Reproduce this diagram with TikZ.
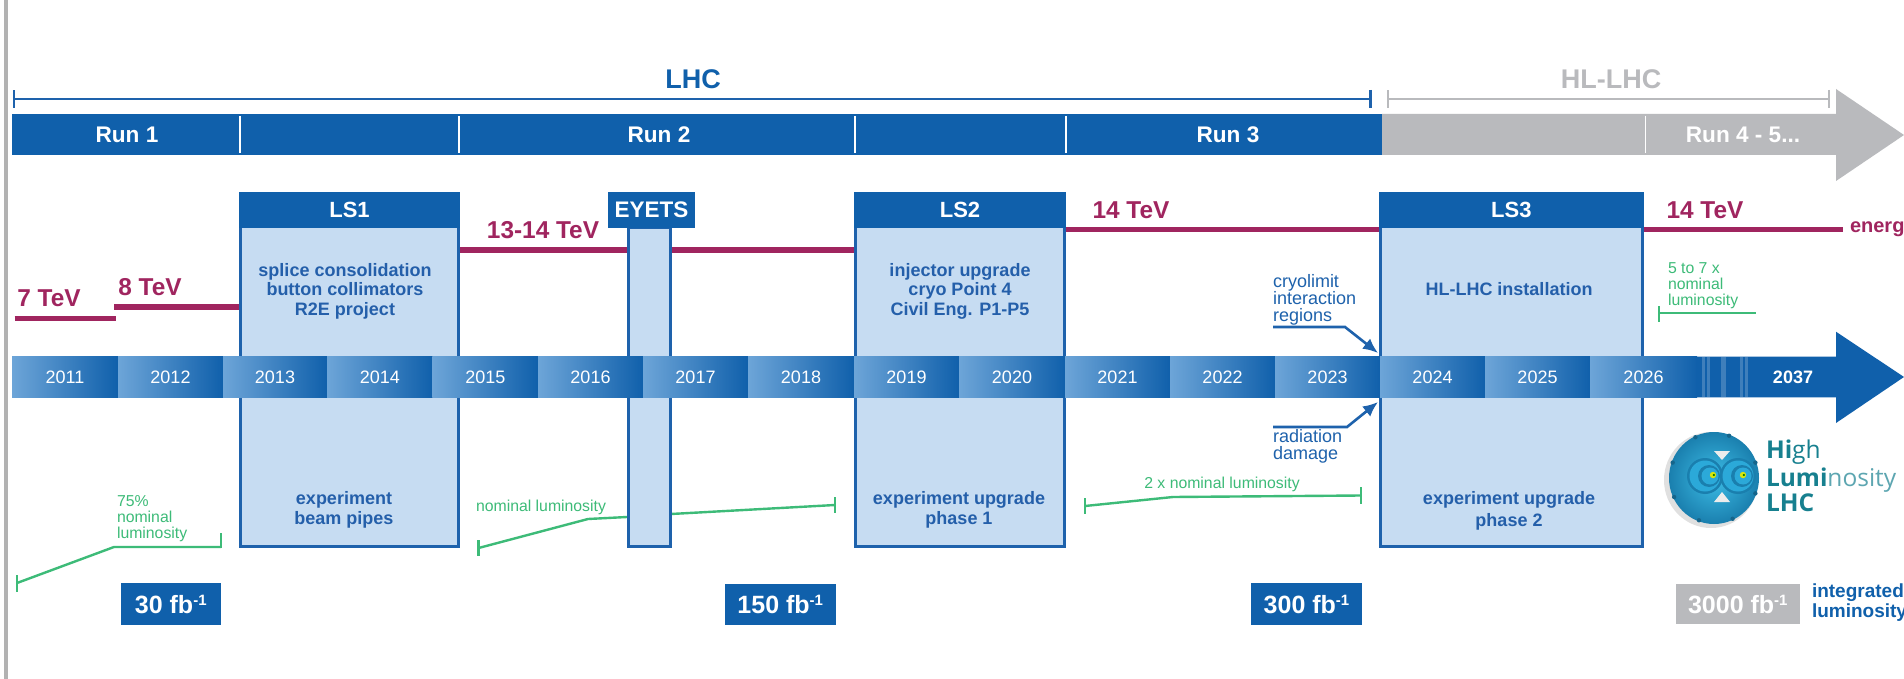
\documentclass[tikz,border=0pt]{standalone}
\usepackage{fontspec}
\setmainfont{Liberation Sans}
\newfontfamily\logofont{Open Sans}
\usetikzlibrary{arrows.meta}
\definecolor{barblue}{HTML}{1060AB}
\definecolor{cellight}{HTML}{6DA5D8}
\definecolor{bodyblue}{HTML}{C6DCF2}
\definecolor{edgeblue}{HTML}{1E62AC}
\definecolor{textblue}{HTML}{245FAA}
\definecolor{barGray}{HTML}{B9BABD}
\definecolor{magentaline}{HTML}{A0255F}
\definecolor{greenline}{HTML}{3DBB78}
\definecolor{logoteal}{HTML}{17808F}
\definecolor{logobase}{HTML}{2BA9D9}
\definecolor{logoedge}{HTML}{1A7FAE}
\definecolor{logolight}{HTML}{3DBDE6}
\newcommand{\sz}[2]{\fontsize{#1}{#2}\selectfont}
\newcommand{\fbsup}{fb\raisebox{8pt}{\sz{15}{15}-1}}
\tikzset{
  every node/.style={inner sep=0pt,outer sep=0pt},
  runlabel/.style={text=white,font=\sz{22.6}{24}\bfseries},
  toplabel/.style={font=\sz{27}{28}\bfseries},
  hdrbox/.style={fill=barblue,text=white,font=\sz{22}{24}\bfseries},
  lsbody/.style={fill=bodyblue,draw=edgeblue,line width=3pt},
  boxtext/.style={text=textblue,align=center,font=\sz{18}{19.6}\bfseries},
  teV/.style={text=magentaline,font=\sz{24.4}{26}\bfseries},
  energyline/.style={draw=magentaline,line width=5.5pt},
  yearcell/.style={left color=cellight,right color=barblue,text=white,font=\sz{18}{20}},
  lumi/.style={draw=greenline,line width=2.4pt},
  lumitext/.style={text=greenline,font=\sz{15.8}{16}},
  bluetext/.style={text=edgeblue,align=left,anchor=west,font=\sz{18}{17}},
  bluearrow/.style={draw=edgeblue,line width=2.6pt,-{Latex[length=15pt,width=13pt]}},
  fbbox/.style={fill=barblue,text=white,font=\sz{25}{26}\bfseries},
}
% cell from x0 to x1 on the year strip
\newcommand{\yearbox}[4]{\node[yearcell,minimum width=#3pt-#2pt,minimum height=40.6pt] (#1) at ({(#2+#3)/2},377) {#4};}
\newcommand{\lsbox}[5]{%
  \node[lsbody,minimum width=#3pt-#2pt-3pt,minimum height=546pt-226pt] (#1body) at ({(#2+#3)/2},386) {};
  \node[hdrbox,minimum width=#3pt-#2pt,minimum height=36pt] (#1head) at ({(#2+#3)/2},210) {#4};}
\begin{document}
\begin{tikzpicture}[x=1pt,y=-1pt]
\useasboundingbox (0,0) rectangle (1904,679);
\clip (0,0) rectangle (1904,679);
\fill[white] (0,0) rectangle (1904,679);
% left rule
\fill[black!30] (4,0) rectangle (8,679);

% brackets
\coordinate (lhcA) at (13,99); \coordinate (lhcB) at (1372,99);
\coordinate (hlA) at (1387,99); \coordinate (hlB) at (1830,99);
\draw[edgeblue,line width=2.2pt,{Bar[width=18pt,line width=2.2pt]}-{Bar[width=18pt,line width=3pt]}] (lhcA) -- (lhcB);
\draw[barGray,line width=2.2pt,{Bar[width=18pt,line width=2.2pt]}-{Bar[width=18pt,line width=2.2pt]}] (hlA) -- (hlB);
\node[toplabel,text=barblue] (lhc) at (693,79) {LHC};
\node[toplabel,text=barGray] (hl) at (1611,79) {HL-LHC};

% run bar
\fill[barGray] (1382,114) -- (1836,114) -- (1836,89) -- (1904,135) -- (1836,181) -- (1836,155) -- (1382,155) -- cycle;
\fill[barblue] (12,114) rectangle (1382,155);
\foreach \sx in {240,459,855,1066,1645.5}
  \draw[white,line width=1.4pt] (\sx,116) -- (\sx,153);
\node[runlabel] (run1) at (127,135) {Run 1};
\node[runlabel] (run2) at (659,135) {Run 2};
\node[runlabel] (run3) at (1228,135) {Run 3};
\node[runlabel] (run4) at (1743,135) {Run 4 - 5...};

% energy lines
\draw[energyline] (14.5,318.7) -- (116,318.7);
\draw[energyline] (114,307) -- (240,307);
\draw[energyline] (460,250) -- (628,250);
\draw[energyline] (670,250) -- (855,250);
\draw[energyline,line width=5pt] (1066,230) -- (1380,230);
\draw[energyline,line width=5pt] (1644,229.5) -- (1843,229.5);
\node[teV] (e7) at (49,298) {7 TeV};
\node[teV] (e8) at (150,287) {8 TeV};
\node[teV] (e13) at (543,230) {13-14 TeV};
\node[teV] (e14a) at (1131,210) {14 TeV};
\node[teV] (e14b) at (1705,210) {14 TeV};
\node[anchor=west,text=magentaline,font=\sz{20}{22}\bfseries] (energy) at (1850,229) {energy};

% luminosity lines behind the EYETS box
\draw[lumi] (17,583) -- (114,547) -- (221,547);
\draw[lumi] (17,575) -- (17,592);
\draw[lumi] (221,533) -- (221,548);
\draw[lumi] (478.6,548) -- (588,519) -- (627,517) -- (671,514) -- (835,505);
\draw[lumi] (478.6,540) -- (478.6,556);
\draw[lumi] (835,497) -- (835,513);

% long shutdowns
\lsbox{ls1}{239}{460}{LS1}{}
\lsbox{ls2}{854}{1066}{LS2}{}
\lsbox{ls3}{1378.6}{1644}{LS3}{}
\node[lsbody,minimum width=42pt,minimum height=319pt] (eyetsbody) at (649,387) {};
\node[hdrbox,minimum width=87pt,minimum height=36pt,font=\sz{22.5}{24}\bfseries] (eyetshead) at (651.5,210) {EYETS};

% year strip
\yearbox{y11}{12}{118}{2011}
\yearbox{y12}{118}{223}{2012}
\yearbox{y13}{223}{327}{2013}
\yearbox{y14}{327}{432.6}{2014}
\yearbox{y15}{432.6}{538}{2015}
\yearbox{y16}{538}{643}{2016}
\yearbox{y17}{643}{748}{2017}
\yearbox{y18}{748}{854}{2018}
\yearbox{y19}{854}{959}{2019}
\yearbox{y20}{959}{1065}{2020}
\yearbox{y21}{1065}{1170}{2021}
\yearbox{y22}{1170}{1275}{2022}
\yearbox{y23}{1275}{1380}{2023}
\yearbox{y24}{1380}{1485}{2024}
\yearbox{y25}{1485}{1590}{2025}
\yearbox{y26}{1590}{1697}{2026}
\fill[barblue] (1696,356.7) -- (1836,356.7) -- (1836,331.7) -- (1904,377) -- (1836,423) -- (1836,397.3) -- (1696,397.3) -- cycle;
\foreach \sx/\sw in {1702/3,1707/3,1721/5,1740/3,1745/3}
  \fill[white,opacity=.2] (\sx,356.7) rectangle ++(\sw,40.6);
\node[text=white,font=\sz{18}{20}\bfseries] (y37) at (1793,377) {2037};

% box texts
\node[boxtext] (t1a) at (345,291) {splice consolidation\\button collimators\\R2E project};
\node[boxtext] (t1b) at (344,510) {experiment\\beam pipes};
\node[boxtext] (t2a) at (960,291) {injector upgrade\\cryo Point 4\\Civil Eng. P1-P5};
\node[boxtext] (t2b) at (959,510) {experiment upgrade\\phase 1};
\node[boxtext] (t3a) at (1509,289) {HL-LHC installation};
\node[boxtext,font=\sz{18}{21.5}\bfseries] (t3b) at (1509,511) {experiment upgrade\\phase 2};

% luminosity, other segments and labels
\draw[lumi] (1085,506) -- (1173,497) -- (1361,495.5);
\draw[lumi] (1085,498) -- (1085,514);
\draw[lumi] (1361,487) -- (1361,504);
\draw[lumi] (1659,313) -- (1756,313);
\draw[lumi] (1659,306) -- (1659,322);
\node[lumitext,anchor=west,align=left] (l75) at (117,519) {75\%\\nominal\\luminosity};
\node[lumitext] (lnom) at (541,507) {nominal luminosity};
\node[lumitext] (l2x) at (1222,484) {2 x nominal luminosity};
\node[lumitext,anchor=west,align=left] (l5) at (1668,286) {5 to 7 x\\nominal\\luminosity};

% cause arrows
\node[bluetext] (cryo) at (1273,300) {cryolimit\\interaction\\regions};
\node[bluetext] (rad) at (1273,446.5) {radiation\\damage};
\coordinate (cryoA) at (1273,327); \coordinate (cryoB) at (1345,327); \coordinate (cryoC) at (1378,353);
\coordinate (radA) at (1273,427); \coordinate (radB) at (1347,427); \coordinate (radC) at (1378,402);
\draw[bluearrow] (cryoA) -- (cryoB) -- (cryoC);
\draw[bluearrow] (radA) -- (radB) -- (radC);

% integrated luminosity
\node[fbbox,minimum width=100.5pt,minimum height=42pt] (fb30) at (170.75,604) {30 \fbsup};
\node[fbbox,minimum width=111.5pt,minimum height=41pt] (fb150) at (780.25,604.5) {150 \fbsup};
\node[fbbox,minimum width=111pt,minimum height=42pt] (fb300) at (1306.5,604) {300 \fbsup};
\node[fbbox,fill=barGray,minimum width=124.4pt,minimum height=40pt] (fb3000) at (1737.8,604) {3000 \fbsup};
\node[anchor=west,align=left,text=barblue,font=\sz{19}{20}\bfseries] (intl) at (1812,603) {integrated\\luminosity};

% logo
\fill[black!12] (1711,480) ellipse [x radius=47,y radius=48];
\shade[inner color=logolight,outer color=logoedge] (1714,478) ellipse [x radius=45,y radius=46];
\foreach \ang in {20,70,115,160,205,250,295,340}
  \fill[logoedge!80!black] ({1714+44*cos(\ang)},{478-45*sin(\ang)}) circle (2.2);
\fill[white!85!gray] (1722,460) -- (1714,451) -- (1730,451) -- cycle;
\fill[white!85!gray] (1722,492) -- (1714,502) -- (1730,502) -- cycle;
\foreach \cx/\dx in {1705/1713,1738/1743}{
  \fill[logoedge] (\cx,476) circle (18);
  \fill[logobase] (\cx,476) circle (15.5);
  \fill[logoedge] (\cx+4,476) circle (11);
  \fill[logobase] (\cx+5,476) circle (8.5);
  \fill[yellow!85!green] (\dx,475) circle (3.2);
  \fill[green!45!black] (\dx+.8,475) circle (1.2);
}
\node[anchor=west,text=logoteal,font=\logofont\sz{24.5}{26}] (lg1) at (1766,452) {\textbf{Hi}gh};
\node[anchor=west,text=logoteal,font=\logofont\sz{24.5}{26}] (lg2) at (1766,480) {\textbf{Lumi}{\color{logoteal!70!white}nosity}};
\node[anchor=west,text=logoteal,font=\logofont\sz{24.5}{26}] (lg3) at (1766,503) {\textbf{LHC}};
\end{tikzpicture}
\end{document}
